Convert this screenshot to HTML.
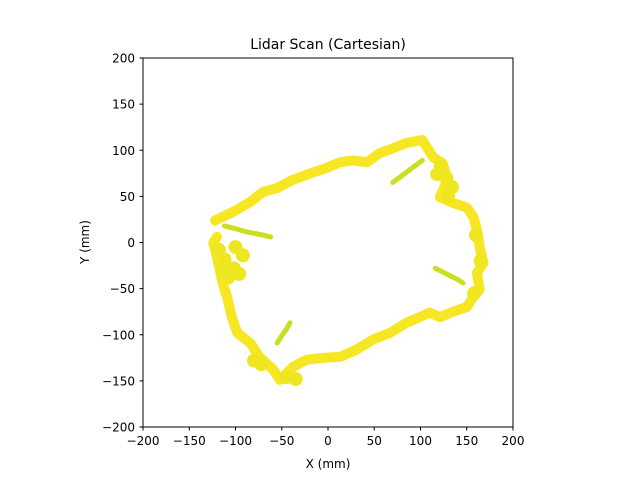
<!DOCTYPE html>
<html><head><meta charset="utf-8"><style>
body{margin:0;background:#fff}
svg{display:block;font-family:"DejaVu Sans","Liberation Sans",sans-serif}
</style></head><body>
<svg id="chart" width="640" height="480">
<text x="328" y="49" font-size="14" text-anchor="middle">Lidar Scan (Cartesian)</text>
<g id="plot"></g>
<rect x="143" y="58" width="370" height="369" fill="none" stroke="#000" stroke-width="1"/>
<g id="ticks"></g>
<text x="328" y="468" font-size="12" text-anchor="middle">X (mm)</text>
<text x="89" y="242" font-size="12" text-anchor="middle" transform="rotate(-90 89 242)">Y (mm)</text>
</svg>
<script>
const xTicks=[-200,-150,-100,-50,0,50,100,150,200];
const yTicks=[-200,-150,-100,-50,0,50,100,150,200];
const loopX=[-122,-103,-84,-70,-55,-38,-19,-1,13,27,42,56,70,85,102,114,124,129,121,135,150,157,161,164,168,161,164,157,150,135,121,110,99,85,67,49,31,13,-5,-23,-38,-52,-59,-74,-84,-98,-104,-109,-114,-117,-120,-124,-120];
const loopY=[24,33,44,55,59,68,75,81,87,89,87,97,102,108,111,92,86,68,49,43,38,28,14,-5,-22,-33,-51,-59,-70,-75,-81,-76,-81,-87,-98,-105,-116,-124,-125,-127,-135,-149,-138,-124,-109,-98,-81,-59,-44,-30,-16,0,6];
const clusterX=[-112,-102,-108,-96,-92,-118,-114,-100,122,128,134,130,118,160,165,158,-80,-72,-45,-35];
const clusterY=[-18,-28,-38,-34,-14,-8,-30,-5,82,70,60,50,74,8,-20,-55,-128,-132,-146,-148];
const streakX=[-112,-100,-90,-80,-70,-62,70,78,86,94,102,116,124,132,140,146,-41,-45,-50,-55];
const streakY=[18,15,12,10,8,6,65,71,77,83,89,-28,-32,-36,-40,-44,-87,-94,-101,-109];
const streakGroup=[0,0,0,0,0,0,1,1,1,1,1,2,2,2,2,2,3,3,3,3];
const NS='http://www.w3.org/2000/svg';
const sx=v=>328+v*0.925, sy=v=>242.5-v*0.9225;
const plot=document.getElementById('plot'), tk=document.getElementById('ticks');
let d='';
loopX.forEach((x,i)=>{d+=(i?'L':'M')+sx(x)+','+sy(loopY[i]);});
const p=document.createElementNS(NS,'path');
p.setAttribute('d',d);p.setAttribute('fill','none');p.setAttribute('stroke','#f7e623');p.setAttribute('stroke-width','10');p.setAttribute('stroke-linejoin','round');p.setAttribute('stroke-linecap','round');


plot.appendChild(p);
clusterX.forEach((x,i)=>{const c=document.createElementNS(NS,'circle');
c.setAttribute('cx',sx(x));c.setAttribute('cy',sy(clusterY[i]));c.setAttribute('r','7');c.setAttribute('fill','#efe622');


plot.appendChild(c);});
[0,1,2,3].forEach(g=>{let sd='';let first=true;
streakX.forEach((x,i)=>{if(streakGroup[i]!==g)return;sd+=(first?'M':'L')+sx(x)+','+sy(streakY[i]);first=false;});
const s=document.createElementNS(NS,'path');
s.setAttribute('d',sd);s.setAttribute('fill','none');s.setAttribute('stroke','#cadf1f');s.setAttribute('stroke-width','5');s.setAttribute('stroke-linecap','round');


plot.appendChild(s);});
xTicks.forEach(v=>{const x=sx(v);
const l=document.createElementNS(NS,'line');l.setAttribute('x1',x);l.setAttribute('x2',x);l.setAttribute('y1',427);l.setAttribute('y2',430.5);l.setAttribute('stroke','#000');


tk.appendChild(l);
const t=document.createElementNS(NS,'text');t.setAttribute('x',x);t.setAttribute('y',445);t.setAttribute('font-size','12');t.setAttribute('text-anchor','middle');t.textContent=(v<0?'\u2212'+(-v):v);


tk.appendChild(t);});
yTicks.forEach(v=>{const y=sy(v);
const l=document.createElementNS(NS,'line');l.setAttribute('x1',139.5);l.setAttribute('x2',143);l.setAttribute('y1',y);l.setAttribute('y2',y);l.setAttribute('stroke','#000');


tk.appendChild(l);
const t=document.createElementNS(NS,'text');t.setAttribute('x',135);t.setAttribute('y',y+4.5);t.setAttribute('font-size','12');t.setAttribute('text-anchor','end');t.textContent=(v<0?'\u2212'+(-v):v);


tk.appendChild(t);});
</script>
</body></html>
